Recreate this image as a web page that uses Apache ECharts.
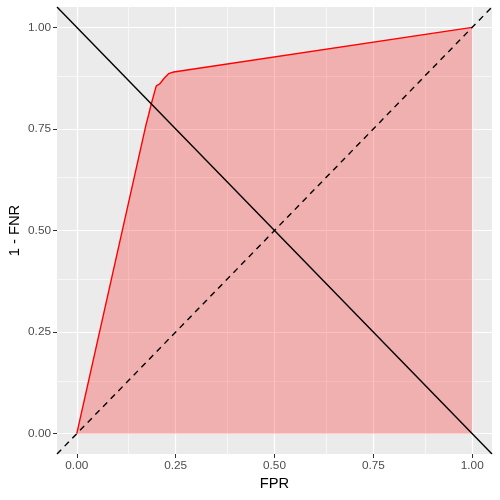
<!DOCTYPE html>
<html>
<head>
<meta charset="utf-8">
<style>
  html, body { margin: 0; padding: 0; background: #fff; }
  #chart { width: 500px; height: 500px; }
</style>
<script src="https://cdn.jsdelivr.net/npm/echarts@6/dist/echarts.min.js"></script>
</head>
<body>
<div id="chart"></div>
<script>
// ROC curve points
var fpr = [0, 0.175, 0.182, 0.188, 0.195, 0.201, 0.209, 0.214, 0.222, 0.232, 0.245, 1];
var tpr = [0, 0.760, 0.786, 0.810, 0.835, 0.856, 0.860, 0.866, 0.876, 0.886, 0.890, 1];

// reference lines (span the whole panel)
var diagX = [-0.05, 1.05];
var diagY = [-0.05, 1.05];
var antiY = [1.05, -0.05];

var tickValues = [0, 0.25, 0.5, 0.75, 1];
var minorValues = [0.125, 0.375, 0.625, 0.875];

function pairs(xs, ys) {
    return xs.map(function (x, i) { return [x, ys[i]]; });
}

var chart = echarts.init(document.getElementById('chart'));

var font = 'Liberation Sans';

function gridLines(axisKey) {
    var out = [];
    minorValues.forEach(function (v) {
        var o = {}; o[axisKey] = v;
        o.lineStyle = { color: '#ffffff', width: 0.6, type: 'solid' };
        out.push(o);
    });
    tickValues.forEach(function (v) {
        var o = {}; o[axisKey] = v;
        o.lineStyle = { color: '#ffffff', width: 1.2, type: 'solid' };
        out.push(o);
    });
    return out;
}

function axisCommon(name, gap, rotate) {
    return {
        type: 'value',
        min: -0.05,
        max: 1.05,
        name: name,
        nameLocation: 'middle',
        nameGap: gap,
        nameRotate: rotate,
        nameMoveOverlap: false,
        nameTextStyle: { color: '#000', fontSize: 14.7, fontFamily: font },
        axisLine: { show: false, onZero: false },
        splitLine: { show: false },
        axisTick: {
            show: true,
            length: 4,
            customValues: tickValues,
            lineStyle: { color: '#333333', width: 1 }
        },
        axisLabel: {
            customValues: tickValues,
            color: '#4D4D4D',
            fontSize: 11.8,
            fontFamily: font,
            margin: 6,
            formatter: function (v) { return v.toFixed(2); }
        }
    };
}

var option = {
    animation: false,
    grid: {
        left: 57,
        right: 8,
        top: 7,
        bottom: 46,
        containLabel: false,
        outerBoundsMode: 'none',
        show: true,
        backgroundColor: '#EBEBEB',
        borderWidth: 0
    },
    xAxis: axisCommon('FPR', 22, 0),
    yAxis: axisCommon('1 - FNR', 35, 90),
    series: [
        {
            // panel grid lines
            type: 'line',
            data: [],
            silent: true,
            z: 0,
            markLine: {
                silent: true,
                symbol: 'none',
                label: { show: false },
                z: 0,
                data: gridLines('xAxis').concat(gridLines('yAxis'))
            }
        },
        {
            name: 'roc',
            type: 'line',
            data: pairs(fpr, tpr),
            symbol: 'none',
            z: 2,
            lineStyle: { color: '#FF0000', width: 1.4 },
            areaStyle: { color: 'rgba(255,0,0,0.25)', opacity: 1, origin: 'auto' }
        },
        {
            name: 'chance',
            type: 'line',
            data: pairs(diagX, diagY),
            symbol: 'none',
            z: 3,
            lineStyle: { color: '#000', width: 1.4, type: [6, 5] }
        },
        {
            name: 'cut',
            type: 'line',
            data: pairs(diagX, antiY),
            symbol: 'none',
            z: 4,
            lineStyle: { color: '#000', width: 1.4 }
        }
    ]
};

chart.setOption(option);
</script>
</body>
</html>
